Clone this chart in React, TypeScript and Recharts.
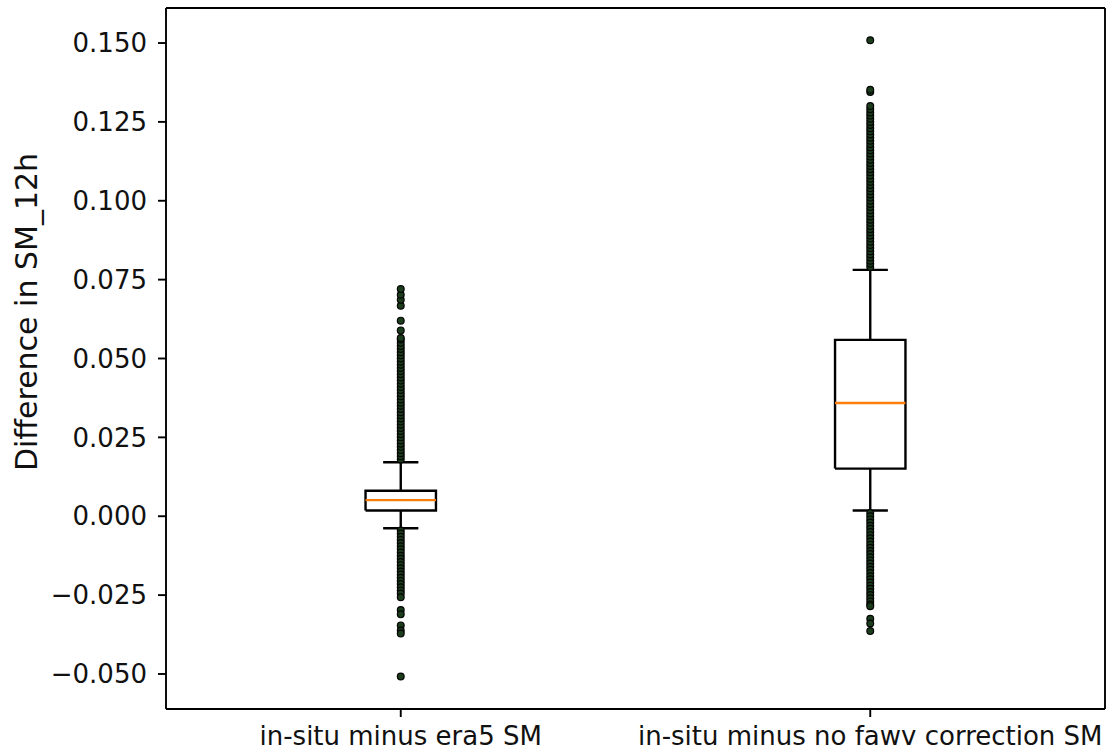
import React from "react";
import {
  ComposedChart,
  XAxis,
  YAxis,
  Line,
  Scatter,
  Label,
  ReferenceLine,
} from "recharts";

// ---------- data ----------
const categories = ["in-situ minus era5 SM", "in-situ minus no fawv correction SM"];
const positions = [1, 2];
const q1 = [0.0018, 0.0151];
const median = [0.0051, 0.0359];
const q3 = [0.0081, 0.0559];
const whiskerLow = [-0.0038, 0.0018];
const whiskerHigh = [0.0171, 0.0781];

const fliersEra5 = [
  0.018, 0.019, 0.020, 0.021, 0.022, 0.023, 0.024, 0.025, 0.026, 0.027,
  0.028, 0.029, 0.030, 0.031, 0.032, 0.033, 0.034, 0.035, 0.036, 0.037,
  0.038, 0.039, 0.040, 0.041, 0.042, 0.043, 0.044, 0.045, 0.046, 0.047,
  0.048, 0.049, 0.050, 0.051, 0.052, 0.053, 0.054, 0.055, 0.056, 0.0565,
  0.0589, 0.062, 0.0667, 0.0686, 0.0702, 0.072,
  -0.0045, -0.0055, -0.0065, -0.0075, -0.0085, -0.0095, -0.0105, -0.0115,
  -0.0125, -0.0135, -0.0145, -0.0155, -0.0165, -0.0175, -0.0185, -0.0195,
  -0.0205, -0.0215, -0.0225, -0.0235, -0.0245, -0.0257,
  -0.0297, -0.0311, -0.0346, -0.0362, -0.0372, -0.0508,
];

const fliersNoFawv = [
  0.079, 0.080, 0.081, 0.082, 0.083, 0.084, 0.085, 0.086, 0.087, 0.088,
  0.089, 0.090, 0.091, 0.092, 0.093, 0.094, 0.095, 0.096, 0.097, 0.098,
  0.099, 0.100, 0.101, 0.102, 0.103, 0.104, 0.105, 0.106, 0.107, 0.108,
  0.109, 0.110, 0.111, 0.112, 0.113, 0.114, 0.115, 0.116, 0.117, 0.118,
  0.119, 0.120, 0.121, 0.122, 0.123, 0.124, 0.125, 0.126, 0.127, 0.128,
  0.129, 0.130, 0.1345, 0.1352, 0.1509,
  0.001, 0.000, -0.001, -0.002, -0.003, -0.004, -0.005, -0.006, -0.007,
  -0.008, -0.009, -0.010, -0.011, -0.012, -0.013, -0.014, -0.015, -0.016,
  -0.017, -0.018, -0.019, -0.020, -0.021, -0.022, -0.023, -0.024, -0.025,
  -0.026, -0.027, -0.028, -0.0285,
  -0.0325, -0.034, -0.0364,
];

const fliers = [fliersEra5, fliersNoFawv];
const yTicks = [-0.05, -0.025, 0, 0.025, 0.05, 0.075, 0.1, 0.125, 0.15];
const xDomain = [0.5, 2.5];
const yDomain = [-0.0611, 0.1611];
const yLabel = "Difference in SM_12h";

// ---------- style ----------
const BOX_W = 0.15;
const CAP_W = 0.075;
const FONT = "'DejaVu Sans', sans-serif";
const FS = 26;
const YLABEL_FS = 30;

type Pt = { x: number; y: number };

const boxOutline = (i: number): Pt[] => {
  const p = positions[i];
  const h = BOX_W / 2;
  return [
    { x: p - h, y: q1[i] },
    { x: p - h, y: q3[i] },
    { x: p + h, y: q3[i] },
    { x: p + h, y: q1[i] },
    { x: p - h, y: q1[i] },
  ];
};
const medianLine = (i: number): Pt[] => {
  const p = positions[i];
  const h = BOX_W / 2;
  return [
    { x: p - h, y: median[i] },
    { x: p + h, y: median[i] },
  ];
};
const whiskerUp = (i: number): Pt[] => [
  { x: positions[i], y: q3[i] },
  { x: positions[i], y: whiskerHigh[i] },
];
const whiskerDown = (i: number): Pt[] => [
  { x: positions[i], y: q1[i] },
  { x: positions[i], y: whiskerLow[i] },
];
const capUp = (i: number): Pt[] => [
  { x: positions[i] - CAP_W / 2, y: whiskerHigh[i] },
  { x: positions[i] + CAP_W / 2, y: whiskerHigh[i] },
];
const capDown = (i: number): Pt[] => [
  { x: positions[i] - CAP_W / 2, y: whiskerLow[i] },
  { x: positions[i] + CAP_W / 2, y: whiskerLow[i] },
];
const flierPoints = (i: number): Pt[] => fliers[i].map((v) => ({ x: positions[i], y: v }));

const fmtY = (v: number) => {
  const s = Math.abs(v).toFixed(3);
  return v < -1e-9 ? "\u2212" + s : s;
};
const fmtX = (v: number) => {
  const idx = positions.indexOf(v);
  return idx >= 0 ? categories[idx] : "";
};

const Dot = (props: any) => {
  const { cx, cy } = props;
  if (cx == null || cy == null) return null;
  return <circle cx={cx} cy={cy} r={3.4} fill="#1b3d1b" stroke="#050505" strokeWidth={1.2} />;
};

const YLabelContent = () => (
  <text
    x={26}
    y={312}
    transform="rotate(-90 26 312)"
    textAnchor="middle"
    dominantBaseline="central"
    fontFamily={FONT}
    fontSize={YLABEL_FS}
    fill="#111"
  >
    {yLabel}
  </text>
);

export default function App() {
  const lineProps = {
    dataKey: "y",
    stroke: "#000",
    strokeWidth: 2.4,
    dot: false,
    activeDot: false,
    isAnimationActive: false,
    type: "linear" as const,
    strokeLinejoin: "miter" as const,
    legendType: "none" as const,
  };
  const series: React.ReactNode[] = [];
  positions.forEach((_, i) => {
    series.push(<Line key={`box${i}`} data={boxOutline(i)} {...lineProps} />);
    series.push(<Line key={`wu${i}`} data={whiskerUp(i)} {...lineProps} />);
    series.push(<Line key={`wd${i}`} data={whiskerDown(i)} {...lineProps} />);
    series.push(<Line key={`cu${i}`} data={capUp(i)} {...lineProps} />);
    series.push(<Line key={`cd${i}`} data={capDown(i)} {...lineProps} />);
    series.push(
      <Line key={`med${i}`} data={medianLine(i)} {...lineProps} stroke="#ff7f0e" strokeWidth={2.4} />
    );
    series.push(
      <Scatter key={`fl${i}`} data={flierPoints(i)} dataKey="y" shape={Dot} isAnimationActive={false} />
    );
  });

  return (
    <div style={{ position: "absolute", left: 0, top: 0, background: "#fff" }}>
      <ComposedChart
        width={1109}
        height={753}
        margin={{ top: 8, right: 4, bottom: 0, left: 0 }}
      >
        <XAxis
          dataKey="x"
          type="number"
          domain={xDomain}
          allowDataOverflow
          ticks={positions}
          tickFormatter={fmtX}
          interval={0}
          height={44}
          tickSize={8}
          tickMargin={10}
          axisLine={{ stroke: "#000", strokeWidth: 1.9 }}
          tickLine={{ stroke: "#000", strokeWidth: 1.9 }}
          tick={{ fill: "#111", fontSize: FS, fontFamily: FONT }}
        />
        <YAxis
          dataKey="y"
          type="number"
          domain={yDomain}
          allowDataOverflow
          ticks={yTicks}
          tickFormatter={fmtY}
          interval={0}
          width={166}
          tickSize={8}
          tickMargin={11}
          axisLine={{ stroke: "#000", strokeWidth: 1.9 }}
          tickLine={{ stroke: "#000", strokeWidth: 1.9 }}
          tick={{ fill: "#111", fontSize: FS, fontFamily: FONT }}
        >
          <Label content={YLabelContent} />
        </YAxis>
        <ReferenceLine y={yDomain[1]} stroke="#000" strokeWidth={1.9} ifOverflow="visible" />
        <ReferenceLine x={xDomain[1]} stroke="#000" strokeWidth={1.9} ifOverflow="visible" />
        {series}
      </ComposedChart>
    </div>
  );
}
